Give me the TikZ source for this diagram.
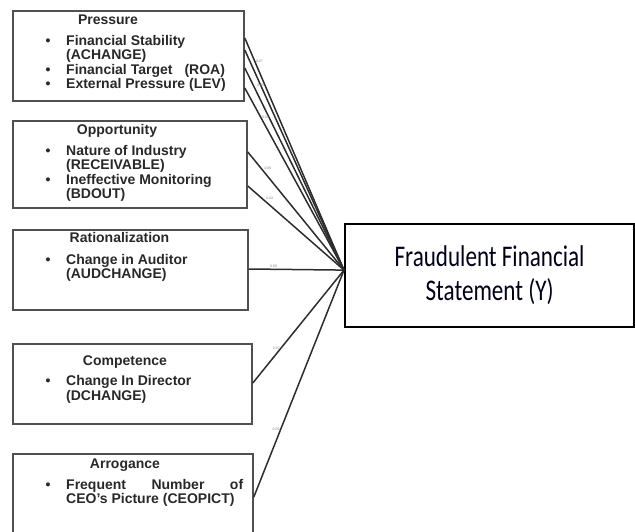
\documentclass[tikz,border=0pt]{standalone}
\usepackage{fontspec}
\setmainfont{Liberation Sans}
\newfontfamily\calibri[FakeStretch=0.77]{Carlito}
\usepackage{xcolor}
\usepackage{tikz}
\usetikzlibrary{positioning}
\definecolor{boxgray}{RGB}{80,80,80}
\definecolor{textgray}{RGB}{40,40,40}
\definecolor{linegray}{RGB}{45,45,45}
\newcommand{\bul}{\makebox[20.5pt][l]{\textbullet}}
\tikzset{edge/.style = {draw=linegray, line width=1.5pt}}

\begin{document}
\begin{tikzpicture}[x=1pt,y=-1pt,
    factor node/.style={draw=boxgray,line width=1.8pt,anchor=north west,inner sep=0pt},
    title node/.style={anchor=base,inner sep=0pt,text=textgray,font=\fontsize{14}{14.3}\selectfont\bfseries},
    list node/.style={anchor=north west,inner sep=0pt,text=textgray,font=\fontsize{14}{14.3}\selectfont\bfseries},
    coef/.style={inner sep=0.6pt,text=gray,font=\fontsize{3.5}{4}\selectfont}]
    \useasboundingbox (0,0) rectangle (635,532);
    % factor boxes
    \node[factor node,minimum width=231,minimum height=90] (pressure) at (12,10) {};
    \node[factor node,minimum width=234,minimum height=87] (opportunity) at (12,120) {};
    \node[factor node,minimum width=235,minimum height=80] (rational) at (12,229) {};
    \node[factor node,minimum width=239,minimum height=80] (competence) at (12,343) {};
    \node[factor node,minimum width=240,minimum height=100] (arrogance) at (12,453) {};

    \node[title node] (pressuretitle) at (108,25) {Pressure};
    \node[list node] (pressurelist) at (45.5,35) {\begin{tabular}{@{}l@{}l@{}}
        \bul & Financial Stability\\
             & (ACHANGE)\\
        \bul & Financial Target\hspace{12pt}(ROA)\\
        \bul & External Pressure (LEV)
        \end{tabular}};

    \node[title node] (opportunitytitle) at (117,135) {Opportunity};
    \node[list node] (opportunitylist) at (45.5,145) {\begin{tabular}{@{}l@{}l@{}}
        \bul & Nature of Industry\\
             & (RECEIVABLE)\\
        \bul & Ineffective Monitoring\\
             & (BDOUT)
        \end{tabular}};

    \node[title node] (rationaltitle) at (119.5,243) {Rationalization};
    \node[list node] (rationallist) at (45.5,254) {\begin{tabular}{@{}l@{}l@{}}
        \bul & Change in Auditor\\
             & (AUDCHANGE)
        \end{tabular}};

    \node[title node] (competencetitle) at (125,365) {Competence};
    \node[list node] (competencelist) at (45.5,375.5) {\begin{tabular}{@{}l@{}l@{}}
        \bul & Change In Director\\
             & (DCHANGE)
        \end{tabular}};

    \node[title node] (arrogancetitle) at (125,468) {Arrogance};
    \node[list node] (arrogancelist) at (45.5,479) {\begin{tabular}{@{}l@{}l@{}}
        \bul & \makebox[177pt][s]{Frequent Number of}\\
             & CEO's Picture (CEOPICT)
        \end{tabular}};

    % dependent variable
    \node[draw=black,line width=2.2pt,anchor=north west,minimum width=289,minimum height=103,
          align=center,font=\calibri\fontsize{30}{34}\selectfont,text=black!90!blue] (target) at (344,223)
          {Fraudulent Financial\\Statement (Y)};
    \coordinate (hub) at ([yshift=5.5pt]target.west);

    \path[edge]
        ([yshift=-28pt]pressure.north east) edge node[coef,pos=0.1,right] {0.07} (hub)
        ([yshift=-40pt]pressure.north east) edge node[coef,pos=0.16] {0.05} (hub)
        ([yshift=-58pt]pressure.north east) edge (hub)
        ([yshift=-78pt]pressure.north east) edge node[coef,pos=0.16,right] {0.03} (hub)
        ([yshift=-32pt]opportunity.north east) edge node[coef,pos=0.16,above right] {0.06} (hub)
        ([yshift=-66pt]opportunity.north east) edge node[coef,pos=0.18,above right] {0.02} (hub)
        ([yshift=-40pt]rational.north east) edge node[coef,pos=0.26,above] {0.00} (hub)
        ([yshift=-40pt]competence.north east) edge node[coef,pos=0.31,left] {0.07} (hub)
        ([yshift=-44pt]arrogance.north east) edge node[coef,pos=0.3,left] {0.09} (hub);
\end{tikzpicture}
\end{document}
